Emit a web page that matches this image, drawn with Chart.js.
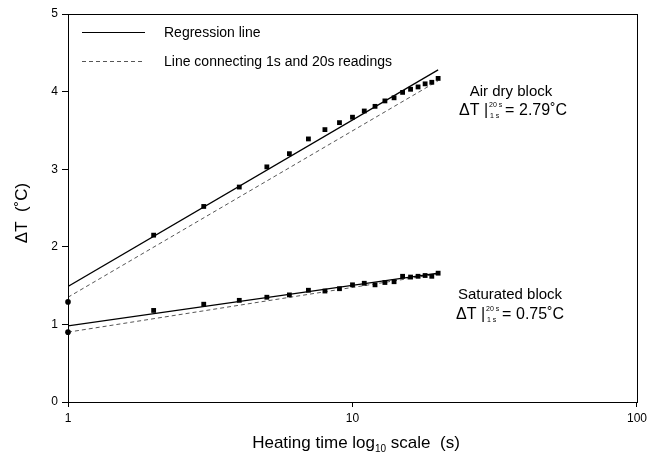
<!DOCTYPE html>
<html>
<head>
<meta charset="utf-8">
<script src="https://cdn.jsdelivr.net/npm/chart.js@4"></script>
<style>
html, body { margin: 0; padding: 0; background: #fff; }
</style>
</head>
<body>
<canvas id="heatChart" width="651" height="455"></canvas>
<script>
// readings, 1 s to 20 s
var times = [1, 2, 3, 4, 5, 6, 7, 8, 9, 10, 11, 12, 13, 14, 15, 16, 17, 18, 19, 20];
var airDry = [1.29, 2.15, 2.52, 2.77, 3.03, 3.20, 3.39, 3.51, 3.60, 3.67, 3.75, 3.81, 3.88, 3.92, 3.99, 4.03, 4.06, 4.10, 4.12, 4.17];
var saturated = [0.90, 1.18, 1.26, 1.31, 1.35, 1.38, 1.44, 1.43, 1.46, 1.51, 1.53, 1.51, 1.54, 1.55, 1.62, 1.61, 1.62, 1.63, 1.62, 1.66];

// straight lines (start/end at 1 s and 20 s)
var lineEnds = [1, 20];
var airRegression = [1.49, 4.28];
var airConnect = [1.35, 4.14];
var satRegression = [0.98, 1.66];
var satConnect = [0.90, 1.65];

var xTicks = [1, 10, 100];
var yTicks = [0, 1, 2, 3, 4, 5];

var FONT = "'Liberation Sans', Arial, sans-serif";

function pts(xs, ys) {
    return xs.map(function (x, i) { return {x: x, y: ys[i]}; });
}

// draws the frame, legend, notes and axis titles
var extras = {
    id: 'extras',
    afterDraw: function (chart) {
        var ctx = chart.ctx;
        var a = chart.chartArea;
        ctx.save();
        ctx.strokeStyle = '#000';
        ctx.lineWidth = 1;
        ctx.strokeRect(a.left + 0.5, a.top + 0.5, a.right - a.left, a.bottom - a.top);

        // legend
        ctx.beginPath();
        ctx.lineWidth = 1.2;
        ctx.moveTo(82, 32.5); ctx.lineTo(145, 32.5);
        ctx.stroke();
        ctx.beginPath();
        ctx.strokeStyle = '#555';
        ctx.lineWidth = 1;
        ctx.setLineDash([4, 3]);
        ctx.moveTo(82, 61.5); ctx.lineTo(145, 61.5);
        ctx.stroke();
        ctx.setLineDash([]);
        ctx.fillStyle = '#000';
        ctx.font = '14px ' + FONT;
        ctx.textAlign = 'left';
        ctx.textBaseline = 'alphabetic';
        ctx.fillText('Regression line', 164, 37);
        ctx.fillText('Line connecting 1s and 20s readings', 164, 66);

        // notes
        function note(title, value, tx, ty, dx, dy) {
            ctx.font = '15px ' + FONT;
            ctx.textAlign = 'center';
            ctx.fillText(title, tx, ty);
            ctx.textAlign = 'left';
            ctx.font = '16px ' + FONT;
            ctx.fillText('\u0394T', dx, dy);
            ctx.fillText('|', dx + 25, dy);
            ctx.font = '7px ' + FONT;
            ctx.fillText('20 s', dx + 30, dy - 8);
            ctx.fillText('1 s', dx + 31, dy + 3);
            ctx.font = '16px ' + FONT;
            ctx.fillText('=', dx + 46, dy);
            ctx.fillText(value + '\u02DAC', dx + 60, dy);
        }
        note('Air dry block', '2.79', 511, 96, 459, 115);
        note('Saturated block', '0.75', 510, 299, 456, 319);

        // axis titles
        ctx.font = '17px ' + FONT;
        ctx.textAlign = 'left';
        var t1 = 'Heating time log';
        var t2 = ' scale  (s)';
        var w1 = ctx.measureText(t1).width;
        ctx.font = '10px ' + FONT;
        var ws = ctx.measureText('10').width;
        ctx.font = '17px ' + FONT;
        var w2 = ctx.measureText(t2).width;
        var x0 = 356 - (w1 + ws + w2) / 2;
        ctx.fillText(t1, x0, 448);
        ctx.font = '10px ' + FONT;
        ctx.fillText('10', x0 + w1, 452);
        ctx.font = '17px ' + FONT;
        ctx.fillText(t2, x0 + w1 + ws, 448);

        ctx.translate(27, 213);
        ctx.rotate(-Math.PI / 2);
        ctx.textAlign = 'center';
        ctx.fillText('\u0394T  (\u02DAC)', 0, 0);
        ctx.restore();
    }
};

var ctx = document.getElementById('heatChart').getContext('2d');
var heatChart = new Chart(ctx, {
    type: 'scatter',
    data: {
        datasets: [{
            label: 'Air dry block',
            data: pts(times, airDry),
            backgroundColor: '#000',
            borderColor: '#000',
            pointStyle: function (c) { return c.dataIndex === 0 ? 'circle' : 'rect'; },
            pointRadius: function (c) { return c.dataIndex === 0 ? 2.8 : 3.4; },
            borderWidth: 0,
            clip: false
        }, {
            label: 'Saturated block',
            data: pts(times, saturated),
            backgroundColor: '#000',
            borderColor: '#000',
            pointStyle: function (c) { return c.dataIndex === 0 ? 'circle' : 'rect'; },
            pointRadius: function (c) { return c.dataIndex === 0 ? 2.8 : 3.4; },
            borderWidth: 0,
            clip: false
        }, {
            type: 'line',
            label: 'Regression line',
            data: pts(lineEnds, airRegression),
            borderColor: '#000',
            borderWidth: 1.2,
            pointRadius: 0,
            fill: false
        }, {
            type: 'line',
            label: 'Line connecting 1s and 20s readings',
            data: pts(lineEnds, airConnect),
            borderColor: '#555',
            borderWidth: 1,
            borderDash: [4, 3],
            pointRadius: 0,
            fill: false
        }, {
            type: 'line',
            label: 'Regression line',
            data: pts(lineEnds, satRegression),
            borderColor: '#000',
            borderWidth: 1.2,
            pointRadius: 0,
            fill: false
        }, {
            type: 'line',
            label: 'Line connecting 1s and 20s readings',
            data: pts(lineEnds, satConnect),
            borderColor: '#555',
            borderWidth: 1,
            borderDash: [4, 3],
            pointRadius: 0,
            fill: false
        }]
    },
    options: {
        responsive: false,
        devicePixelRatio: 1,
        animation: false,
        layout: {
            padding: {top: 14, right: 11, left: 0, bottom: 0}
        },
        plugins: {
            legend: {display: false},
            tooltip: {enabled: false}
        },
        scales: {
            x: {
                type: 'logarithmic',
                min: 1,
                max: 100,
                afterBuildTicks: function (s) {
                    s.ticks = xTicks.map(function (v) { return {value: v}; });
                },
                afterFit: function (s) { s.height = 53; },
                ticks: {
                    callback: function (v) { return String(v); },
                    color: '#000',
                    font: {family: FONT, size: 12},
                    padding: 4,
                    maxRotation: 0
                },
                grid: {drawOnChartArea: false, drawTicks: true, tickLength: 5, color: '#000'},
                border: {color: '#000', width: 1}
            },
            y: {
                min: 0,
                max: 5,
                afterBuildTicks: function (s) {
                    s.ticks = yTicks.map(function (v) { return {value: v}; });
                },
                afterFit: function (s) { s.width = 68; },
                ticks: {
                    color: '#000',
                    font: {family: FONT, size: 12},
                    padding: 4
                },
                grid: {drawOnChartArea: false, drawTicks: true, tickLength: 6, color: '#000'},
                border: {color: '#000', width: 1}
            }
        }
    },
    plugins: [extras]
});
</script>
</body>
</html>
